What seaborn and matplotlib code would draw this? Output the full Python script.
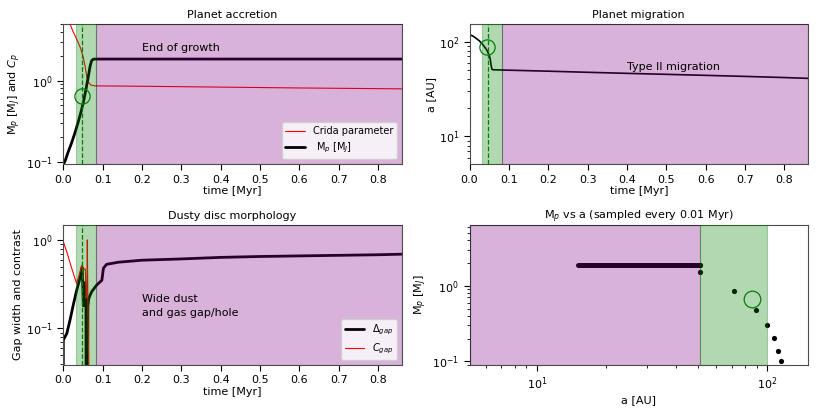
import numpy as np
import pandas as pd
import matplotlib
matplotlib.use("Agg")
import matplotlib.pyplot as plt
import seaborn as sns

# --- planet accretion (top left) ---
t_mass = [0.0, 0.004, 0.012, 0.021, 0.03, 0.038, 0.045, 0.051, 0.058, 0.064, 0.068, 0.072, 0.076, 0.08, 0.2, 0.5, 0.86]
mass_p = [0.093, 0.1, 0.13, 0.17, 0.23, 0.31, 0.41, 0.54, 0.8, 1.15, 1.5, 1.76, 1.83, 1.84, 1.84, 1.84, 1.84]
t_crida = [0.017, 0.024, 0.03, 0.037, 0.043, 0.05, 0.055, 0.06, 0.064, 0.07, 0.08, 0.2, 0.4, 0.6, 0.86]
crida = [5.0, 4.1, 3.57, 3.0, 2.57, 2.0, 1.53, 1.1, 0.95, 0.88, 0.86, 0.85, 0.83, 0.81, 0.79]

# --- planet migration (top right) ---
t_semi = [0.0, 0.008, 0.016, 0.025, 0.033, 0.04, 0.045, 0.051, 0.053, 0.055, 0.057, 0.06, 0.1, 0.2, 0.3, 0.4, 0.5, 0.6, 0.7, 0.8, 0.86]
semi_a = [118, 115, 109, 102, 94, 86, 80, 70, 64, 56, 51, 50.5, 50, 48.8, 47.5, 46.3, 45.2, 44.1, 43, 41.8, 41]

# --- dusty disc morphology (bottom left) ---
t_width = [0.0, 0.0, 0.009, 0.017, 0.026, 0.034, 0.043, 0.048, 0.051, 0.0536, 0.056, 0.0575, 0.058,
           0.062, 0.0625, 0.065, 0.072, 0.085, 0.098, 0.102, 0.11, 0.14, 0.2, 0.3, 0.4, 0.5, 0.6, 0.7, 0.8, 0.86]
gap_width = [0.01, 0.074, 0.088, 0.124, 0.19, 0.27, 0.38, 0.49, 0.18, 0.33, 0.21, 0.25, 0.01,
             0.01, 0.18, 0.22, 0.26, 0.31, 0.35, 0.48, 0.53, 0.56, 0.59, 0.61, 0.635, 0.65, 0.66, 0.67, 0.68, 0.69]
t_contrast = [0.0, 0.009, 0.02, 0.034, 0.04, 0.047, 0.051, 0.056, 0.058, 0.06, 0.061, 0.0625, 0.066]
gap_contrast = [0.96, 0.73, 0.5, 0.32, 0.4, 0.52, 0.46, 0.47, 0.22, 0.3, 1.0, 0.2, 0.01]

# --- Mp vs a, sampled every 0.01 Myr (bottom right) ---
a_sampled = [114, 111, 106.5, 100, 89.3, 71.6, 51, 51]
mp_sampled = [0.1, 0.138, 0.204, 0.30, 0.48, 0.85, 1.53, 1.89]
a_late = [15, 51]
mp_late = [1.9, 1.9]

# highlighted moment / regions
t_mark = 0.048
mp_mark = 0.65
a_mark = 88
grow_phase = (0.032, 0.083)
t_end = 0.86
a_green = (51, 100)

sns.set_style("ticks")
plt.rcParams["font.size"] = 8
plt.rcParams["axes.titlesize"] = 8
plt.rcParams["axes.labelsize"] = 8
plt.rcParams["xtick.labelsize"] = 8
plt.rcParams["ytick.labelsize"] = 8
plt.rcParams["legend.fontsize"] = 7
plt.rcParams["axes.edgecolor"] = "0.3"
plt.rcParams["text.color"] = "black"
plt.rcParams["axes.labelcolor"] = "black"
plt.rcParams["xtick.color"] = "black"
plt.rcParams["ytick.color"] = "black"
plt.rcParams["xtick.major.size"] = 4
plt.rcParams["ytick.major.size"] = 4
plt.rcParams["xtick.minor.size"] = 2.5
plt.rcParams["ytick.minor.size"] = 2.5

fig, axes = plt.subplots(2, 2, figsize=(8.22, 4.11), dpi=100)
fig.subplots_adjust(left=0.077, right=0.983, bottom=0.112, top=0.942, wspace=0.2, hspace=0.43)


def time_spans(ax):
    ax.axvspan(grow_phase[0], grow_phase[1], color="green", alpha=0.3, zorder=3, lw=0.8)
    ax.axvspan(grow_phase[1], t_end, facecolor="purple", edgecolor="black", alpha=0.3, zorder=3, lw=0.8)
    ax.axvline(t_mark, color="green", ls="--", lw=0.9, zorder=4)
    ax.set_xlim(0, t_end)
    ax.set_xticks(np.arange(0, 0.81, 0.1))
    ax.set_xlabel("time [Myr]", labelpad=1)


# top left
ax = axes[0, 0]
sns.lineplot(x=t_crida, y=crida, color="red", lw=0.8, ax=ax, label="Crida parameter",
             estimator=None, sort=False)
sns.lineplot(x=t_mass, y=mass_p, color="black", lw=2, ax=ax, label=" M$_p$ [M$_J$]",
             estimator=None, sort=False)
ax.plot([t_mark], [mp_mark], "o", ms=11, mfc="none", mec="green", mew=0.9, zorder=5)
ax.set_yscale("log")
ax.set_ylim(0.093, 5)
time_spans(ax)
ax.text(0.2, 2.5, "End of growth", va="center", zorder=6)
ax.set_title("Planet accretion", pad=4)
ax.set_ylabel("M$_p$ [M$_J$] and $C_p$", labelpad=2)
ax.legend(loc="lower right", framealpha=0.8).set_zorder(10)

# top right
ax = axes[0, 1]
sns.lineplot(x=t_semi, y=semi_a, color="black", lw=1.2, ax=ax, estimator=None, sort=False)
ax.plot([t_mark - 0.003], [a_mark], "o", ms=11, mfc="none", mec="green", mew=0.9, zorder=5)
ax.set_yscale("log")
ax.set_ylim(5.1, 154)
time_spans(ax)
ax.text(0.4, 54.5, "Type II migration", va="center", zorder=6)
ax.set_title("Planet migration", pad=4)
ax.set_ylabel("a [AU]", labelpad=2)

# bottom left
ax = axes[1, 0]
sns.lineplot(x=t_width, y=gap_width, color="black", lw=2, ax=ax, label=r"$\Delta_{gap}$",
             estimator=None, sort=False)
sns.lineplot(x=t_contrast, y=gap_contrast, color="red", lw=0.8, ax=ax, label=r"$C_{gap}$",
             estimator=None, sort=False)
ax.set_yscale("log")
ax.set_ylim(0.0387, 1.49)
time_spans(ax)
ax.text(0.2, 0.18, "Wide dust\nand gas gap/hole", va="center", zorder=6, linespacing=1.5)
ax.set_title("Dusty disc morphology", pad=4)
ax.set_ylabel("Gap width and contrast", labelpad=2)
ax.legend(loc="lower right", framealpha=0.8).set_zorder(10)

# bottom right
ax = axes[1, 1]
sns.lineplot(x=a_late, y=mp_late, color="black", lw=3.6, ax=ax, estimator=None, sort=False,
             solid_capstyle="round")
sns.scatterplot(x=a_sampled, y=mp_sampled, color="black", s=14, linewidth=0, ax=ax)
ax.plot([a_mark - 2.7], [mp_mark + 0.017], "o", ms=12, mfc="none", mec="green", mew=0.9, zorder=5)
ax.set_xscale("log")
ax.set_yscale("log")
ax.set_xlim(5.1, 150)
ax.set_ylim(0.09, 6.4)
ax.axvspan(5.1, a_green[0], facecolor="purple", edgecolor="black", alpha=0.3, zorder=3, lw=0.8)
ax.axvspan(a_green[0], a_green[1], color="green", alpha=0.3, zorder=3, lw=0.8)
ax.set_title("M$_p$ vs a (sampled every 0.01 Myr)", pad=4)
ax.set_xlabel("a [AU]", labelpad=2)
ax.set_ylabel("M$_p$ [M$_J$]", labelpad=2)

fig.savefig("out.png", dpi=100)
